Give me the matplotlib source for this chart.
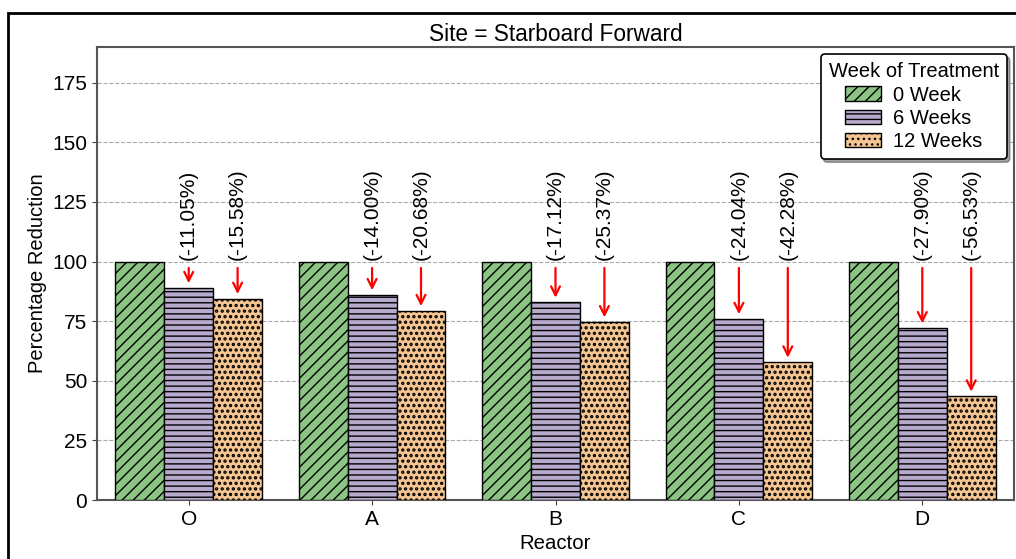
import numpy as np
import matplotlib.pyplot as plt
from matplotlib.patches import Rectangle

plt.rcParams['font.family'] = ['Liberation Sans', 'DejaVu Sans']
plt.rcParams['hatch.linewidth'] = 1.0

# datos
reactors = ['O', 'A', 'B', 'C', 'D']
week0 = [100, 100, 100, 100, 100]
week6 = [88.95, 86.00, 82.88, 75.96, 72.10]
week12 = [84.42, 79.32, 74.63, 57.72, 43.47]
series = ['0 Week', '6 Weeks', '12 Weeks']
colores = ['#8bc483', '#b7aacd', '#f5c592']
hatches = ['///', '---', '...']
hatch_lw = [1.0, 1.0, 1.6]

fig = plt.figure(figsize=(10.16, 5.59), dpi=100)
ax = fig.add_axes([97/1016, 1 - 500/559, (1014-97)/1016, (500-47)/559])

# marco de la figura (recortado a la derecha y abajo)
fig.patches.append(Rectangle((8/1016, -0.1), 1.2, 1 - 13/559 + 0.1, transform=fig.transFigure,
                             fill=False, edgecolor='black', lw=2, clip_on=False))

x = np.arange(len(reactors))
w = 0.8 / 3
datos = [week0, week6, week12]
for i, vals in enumerate(datos):
    plt.rcParams['hatch.linewidth'] = hatch_lw[i]
    bars = ax.bar(x + (i - 1) * w, vals, w, color=colores[i], hatch=hatches[i],
                  edgecolor='black', linewidth=1.0, label=series[i], zorder=3)
    for b in bars:
        if hasattr(b, 'set_hatch_linewidth'):
            b.set_hatch_linewidth(hatch_lw[i])
plt.rcParams['hatch.linewidth'] = 1.0

# flechas de reduccion
for i in (1, 2):
    for j, v in enumerate(datos[i]):
        xc = x[j] + (i - 1) * w
        red = v - 100
        ax.annotate('', xy=(xc, v + 0.8), xytext=(xc, 98.5),
                    arrowprops=dict(arrowstyle='->', color='red', lw=1.6, mutation_scale=16), zorder=4)
        ax.text(xc, 100.5, f'({red:.2f}%)', rotation=90, ha='center', va='bottom', fontsize=15)

ax.set_xlim(-0.5, 4.5)
ax.set_ylim(0, 190)
ax.set_yticks(np.arange(0, 176, 25))
ax.set_xticks(x)
ax.set_xticklabels(reactors)
ax.tick_params(labelsize=15, color='#444444')
ax.yaxis.grid(True, linestyle='--', color='#aaaaaa', lw=0.8, zorder=0)
ax.set_axisbelow(True)
for s in ax.spines.values():
    s.set_color('#555555')
    s.set_linewidth(1.5)

ax.set_title('Site = Starboard Forward', fontsize=16.3, pad=4)
ax.set_xlabel('Reactor', fontsize=14.7)
ax.set_ylabel('Percentage Reduction', fontsize=14.5)

leg = ax.legend(title='Week of Treatment', loc='upper right', fontsize=14.5, title_fontsize=14.5,
                shadow=True, fancybox=True, framealpha=1, edgecolor='black',
                handlelength=1.75, handletextpad=0.6, borderpad=0.4, labelspacing=0.22,
                borderaxespad=0.35)
leg.get_frame().set_linewidth(1.2)

fig.savefig('out.png', dpi=100)
